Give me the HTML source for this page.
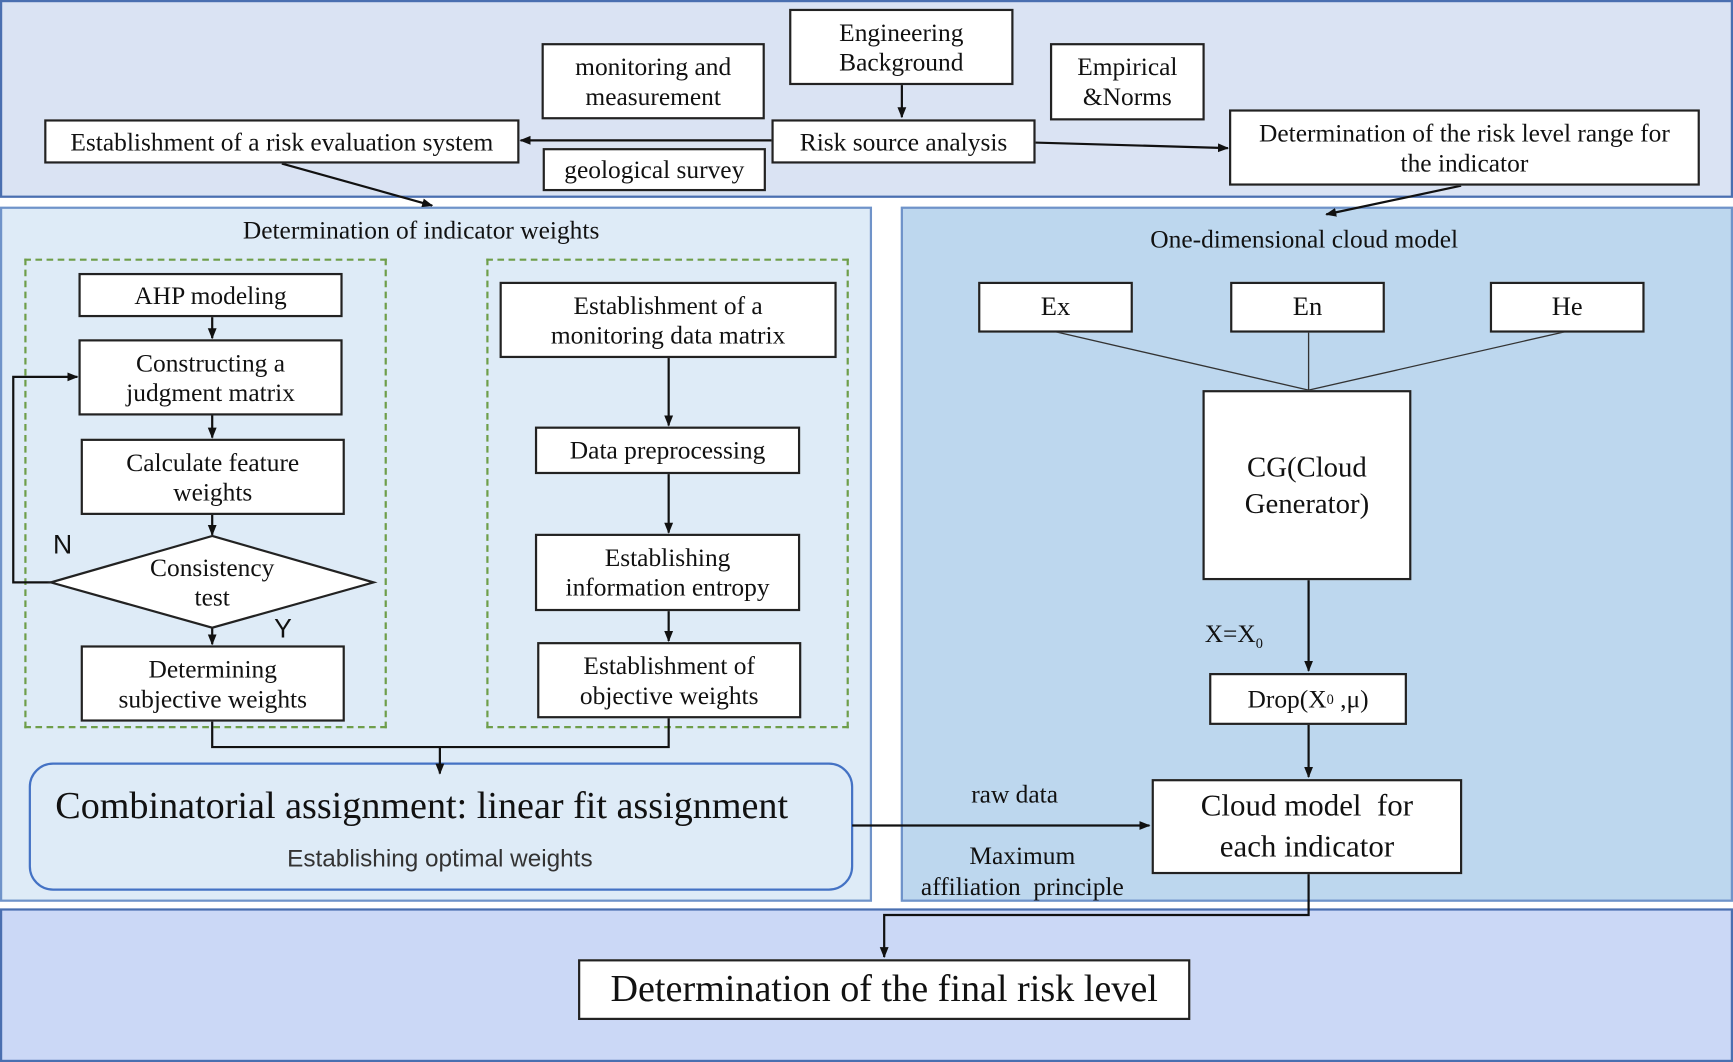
<!DOCTYPE html>
<html><head><meta charset="utf-8"><style>
html,body{margin:0;padding:0;width:1733px;height:1062px;overflow:hidden;background:#fff}
#w{position:absolute;left:0;top:0;width:1568px;height:961px;transform:scale(1.10523,1.10510);transform-origin:0 0;font-family:"Liberation Serif",serif;color:#111}
.p{position:absolute;box-sizing:border-box}
.b{position:absolute;box-sizing:border-box;background:#fff;border:2px solid #222;display:flex;align-items:center;justify-content:center;text-align:center;font-size:23px;line-height:27px;white-space:nowrap}
.t{position:absolute;white-space:nowrap;font-size:23px}
</style></head><body><div id="w">
<div class="p" style="left:0;top:0;width:1568px;height:179px;background:#dae3f3;border:2px solid #4a6fb0"></div>
<div class="p" style="left:0;top:187px;width:789px;height:629px;background:#deebf7;border:2px solid #6f93c9"></div>
<div class="p" style="left:815px;top:187px;width:753px;height:629px;background:#bdd7ee;border:2px solid #6f93c9"></div>
<div class="p" style="left:0;top:822px;width:1568px;height:139px;background:#cbd8f6;border:2px solid #4a6fb0"></div>
<div class="p" style="left:22px;top:234px;width:328px;height:425px;border:2px dashed #6e9e4a"></div>
<div class="p" style="left:440px;top:234px;width:328px;height:425px;border:2px dashed #6e9e4a"></div>
<div class="p" style="left:26px;top:690px;width:746px;height:116px;border:2px solid #4472c4;border-radius:22px;background:#deebf7"></div>

<svg class="p" style="left:0;top:0" width="1568" height="961">
<defs><marker id="a" markerWidth="10" markerHeight="10" refX="9" refY="5" orient="auto" markerUnits="userSpaceOnUse"><path d="M0,1 L10,5 L0,9z" fill="#111"/></marker></defs>
<g stroke="#111" stroke-width="2" fill="none">
<line x1="816" y1="76" x2="816" y2="106" marker-end="url(#a)"/>
<line x1="698" y1="127" x2="471" y2="127" marker-end="url(#a)"/>
<line x1="936" y1="129" x2="1111" y2="134" marker-end="url(#a)"/>
<line x1="255" y1="148" x2="391" y2="186" marker-end="url(#a)"/>
<line x1="1322" y1="168" x2="1200" y2="194" marker-end="url(#a)"/>
<line x1="192" y1="286" x2="192" y2="306" marker-end="url(#a)"/>
<line x1="192" y1="375" x2="192" y2="396" marker-end="url(#a)"/>
<line x1="192" y1="465" x2="192" y2="484" marker-end="url(#a)"/>
<line x1="192" y1="568" x2="192" y2="583" marker-end="url(#a)"/>
<polyline points="46,527 12,527 12,341 70,341" marker-end="url(#a)"/>
<line x1="605" y1="323" x2="605" y2="385" marker-end="url(#a)"/>
<line x1="605" y1="428" x2="605" y2="482" marker-end="url(#a)"/>
<line x1="605" y1="552" x2="605" y2="580" marker-end="url(#a)"/>
<polyline points="192,652 192,676 605,676 605,649"/>
<line x1="398" y1="676" x2="398" y2="700" marker-end="url(#a)"/>
<line x1="1184" y1="524" x2="1184" y2="607" marker-end="url(#a)"/>
<line x1="1184" y1="655" x2="1184" y2="703" marker-end="url(#a)"/>
<line x1="771" y1="747" x2="1040" y2="747" marker-end="url(#a)"/>
<polyline points="1184,790 1184,828 800,828 800,866" marker-end="url(#a)"/>
</g>
<g stroke="#333" stroke-width="1.2"><line x1="954" y1="300" x2="1184" y2="353"/><line x1="1184" y1="300" x2="1184" y2="353"/><line x1="1417" y1="300" x2="1184" y2="353"/></g>
<polygon points="192,485 338,527 192,568 46,527" fill="#fff" stroke="#222" stroke-width="2"/>
</svg>

<div class="b" style="left:714px;top:8px;width:203px;height:69px">Engineering<br>Background</div>
<div class="b" style="left:490px;top:39px;width:202px;height:69px">monitoring and<br>measurement</div>
<div class="b" style="left:950px;top:39px;width:140px;height:70px">Empirical<br>&amp;Norms</div>
<div class="b" style="left:40px;top:108px;width:430px;height:40px">Establishment of a risk evaluation system</div>
<div class="b" style="left:698px;top:108px;width:239px;height:40px">Risk source analysis</div>
<div class="b" style="left:491px;top:134px;width:202px;height:39px">geological survey</div>
<div class="b" style="left:1112px;top:99px;width:426px;height:69px">Determination of the risk level range for<br>the indicator</div>

<div class="t" style="left:381px;top:196px;transform:translateX(-50%)">Determination of indicator weights</div>
<div class="b" style="left:71px;top:247px;width:239px;height:40px">AHP modeling</div>
<div class="b" style="left:71px;top:307px;width:239px;height:69px">Constructing a<br>judgment matrix</div>
<div class="b" style="left:73px;top:397px;width:239px;height:69px">Calculate feature<br>weights</div>
<div class="t" style="left:192px;top:500px;transform:translateX(-50%);text-align:center;line-height:27px">Consistency<br>test</div>
<div class="t" style="left:48px;top:480px;font-family:'Liberation Sans',sans-serif;font-size:24px">N</div>
<div class="t" style="left:248px;top:556px;font-family:'Liberation Sans',sans-serif;font-size:24px">Y</div>
<div class="b" style="left:73px;top:584px;width:239px;height:69px">Determining<br>subjective weights</div>
<div class="b" style="left:452px;top:255px;width:305px;height:69px">Establishment of a<br>monitoring data matrix</div>
<div class="b" style="left:484px;top:386px;width:240px;height:43px">Data preprocessing</div>
<div class="b" style="left:484px;top:483px;width:240px;height:70px">Establishing<br>information entropy</div>
<div class="b" style="left:486px;top:581px;width:239px;height:69px">Establishment of<br>objective weights</div>
<div class="t" style="left:50px;top:710px;font-size:34.5px">Combinatorial assignment: linear fit assignment</div>
<div class="t" style="left:398px;top:764px;transform:translateX(-50%);font-family:'Liberation Sans',sans-serif;font-size:22px;color:#333">Establishing optimal weights</div>

<div class="t" style="left:1180px;top:204px;transform:translateX(-50%)">One-dimensional cloud model</div>
<div class="b" style="left:885px;top:255px;width:140px;height:46px;font-size:24px">Ex</div>
<div class="b" style="left:1113px;top:255px;width:140px;height:46px;font-size:24px">En</div>
<div class="b" style="left:1348px;top:255px;width:140px;height:46px;font-size:24px">He</div>
<div class="b" style="left:1088px;top:353px;width:189px;height:172px;font-size:26px;line-height:33px">CG(Cloud<br>Generator)</div>
<div class="t" style="left:1090px;top:561px;font-size:23px">X=X<sub style="font-size:13px">0</sub></div>
<div class="b" style="left:1094px;top:609px;width:179px;height:47px;font-size:23px">Drop(X<sub style="font-size:13px">0</sub>&nbsp;,μ)</div>
<div class="b" style="left:1042px;top:705px;width:281px;height:86px;font-size:28px;line-height:37px">Cloud model &nbsp;for<br>each indicator</div>
<div class="t" style="left:918px;top:706px;transform:translateX(-50%)">raw data</div>
<div class="t" style="left:925px;top:761px;transform:translateX(-50%);text-align:center;line-height:28px">Maximum<br>affiliation &nbsp;principle</div>
<div class="b" style="left:523px;top:868px;width:554px;height:55px;font-size:34.5px">Determination of the final risk level</div>
</div></body></html>
